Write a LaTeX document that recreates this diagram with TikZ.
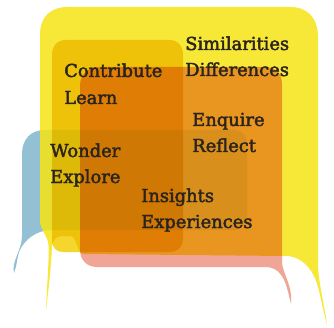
\documentclass[tikz,border=0pt]{standalone}
\usepackage{fontspec}
\setmainfont{DejaVu Serif}[FakeBold=2.4]
\definecolor{bubbleblue}{RGB}{148,192,212}
\definecolor{bubbleyellow}{RGB}{246,228,20}
\definecolor{bubblegold}{RGB}{245,214,45}
\definecolor{bubblepink}{RGB}{240,165,150}
\definecolor{ink}{RGB}{43,36,30}
\begin{document}
\begin{tikzpicture}[x=0.75pt,y=-0.75pt,
  word/.style={anchor=base west,inner sep=0pt,text=ink,
    font=\fontsize{13.4pt}{19pt}\selectfont},
  mult/.style={blend mode=multiply}]
\useasboundingbox (0,0) rectangle (334,327);
\fill[white] (0,0) rectangle (334,327);

% blue bubble, tail at the lower left
\fill[bubbleblue]
  (14,273) .. controls (11,262) and (22,250) .. (22,236)
  -- (22,154) .. controls (22,140) and (30,130) .. (45,130)
  -- (233,130) .. controls (242,130) and (247,135) .. (247,144)
  -- (247,214) .. controls (247,224) and (242,230) .. (233,230)
  -- (52,230) .. controls (36,230) and (24,240) .. (19,252)
  .. controls (17,258) and (17,266) .. (14,273) -- cycle;

% large yellow bubble, tails at both lower corners
\fill[bubbleyellow,fill opacity=0.85]
  (46,311) .. controls (47,280) and (50,252) .. (48,242)
  .. controls (46,234) and (40,229) .. (40,220)
  -- (40,35) .. controls (40,17) and (50,7) .. (68,7)
  -- (290,7) .. controls (308,7) and (318,18) .. (318,38)
  -- (318,262) .. controls (318,282) and (324,302) .. (327,325)
  .. controls (321,302) and (319,286) .. (314,276)
  .. controls (308,264) and (298,256) .. (286,256)
  -- (84,254) .. controls (76,254) and (78,236) .. (70,236)
  -- (62,236) .. controls (56,236) and (53,240) .. (52,246)
  .. controls (51,270) and (48,292) .. (46,311) -- cycle;

% gold bubble
\begin{scope}[mult]
\fill[bubblegold]
  (52,55) .. controls (52,46) and (57,40) .. (66,40)
  -- (169,40) .. controls (178,40) and (183,46) .. (183,55)
  -- (183,238) .. controls (183,247) and (178,252) .. (169,252)
  -- (64,252) .. controls (56,252) and (52,248) .. (52,240) -- cycle;
\end{scope}

% pink bubble, tail at the lower right
\begin{scope}[mult]
\fill[bubblepink]
  (80,86) .. controls (80,74) and (88,67) .. (100,67)
  -- (264,67) .. controls (276,67) and (282,73) .. (282,85)
  -- (282,262) .. controls (282,272) and (293,286) .. (291,304)
  .. controls (288,292) and (286,281) .. (281,275)
  .. controls (278,270) and (272,267) .. (266,267)
  -- (97,267) .. controls (87,267) and (80,260) .. (80,250) -- cycle;
\end{scope}

% words
\node[word] (sim) at (185,50) {Similarities};
\node[word] (dif) at (185,76) {Differences};
\node[word] (con) at (64,77) {Contribute};
\node[word] (lea) at (64,104) {Learn};
\node[word] (enq) at (192,126) {Enquire};
\node[word] (ref) at (192,152) {Reflect};
\node[word] (won) at (50,157) {Wonder};
\node[word] (exl) at (50,183) {Explore};
\node[word] (ins) at (141,202) {Insights};
\node[word] (exp) at (141,228) {Experiences};
\end{tikzpicture}
\end{document}
